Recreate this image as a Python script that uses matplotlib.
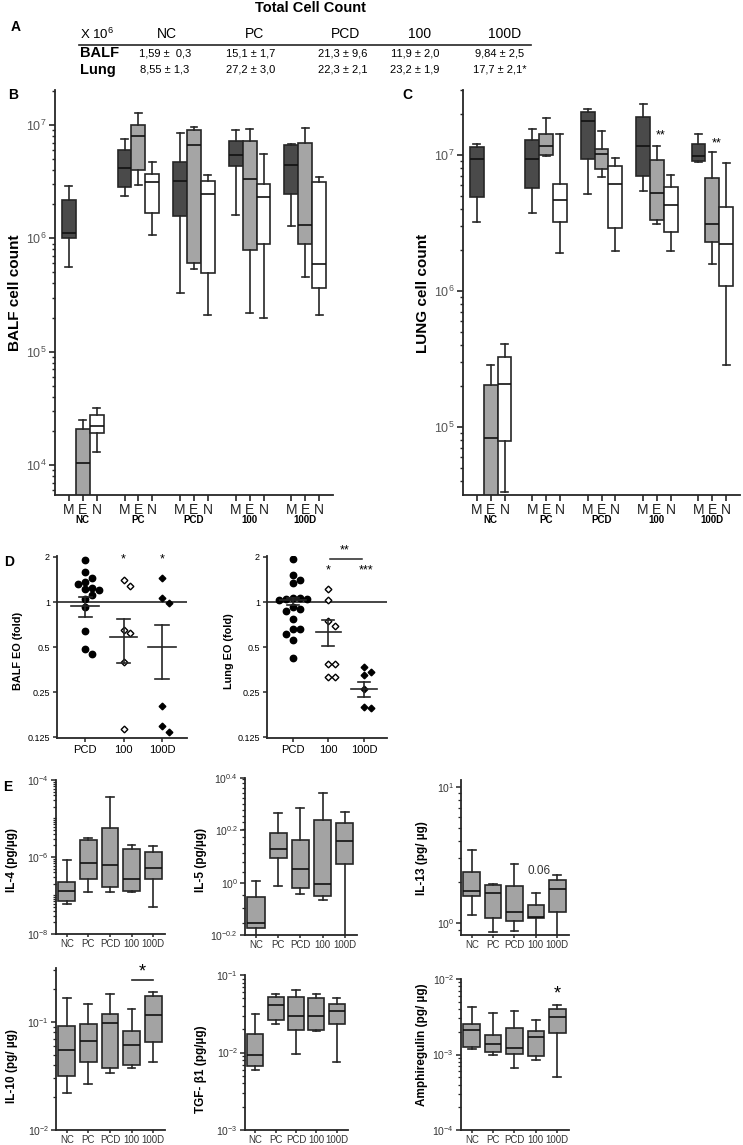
import numpy as np
import matplotlib.pyplot as plt
from matplotlib.lines import Line2D
from matplotlib.ticker import LogLocator, FixedLocator, NullLocator, NullFormatter

plt.rcParams["font.family"] = ["Liberation Sans", "DejaVu Sans"]
plt.rcParams["mathtext.fontset"] = "custom"
plt.rcParams["mathtext.rm"] = "Liberation Sans"
plt.rcParams["mathtext.it"] = "Liberation Sans:italic"
plt.rcParams["mathtext.bf"] = "Liberation Sans:bold"

W, H = 743, 1145
DARK = "#262626"

# ---------------- data ----------------
groups = ["NC", "PC", "PCD", "100", "100D"]
cells = ["M", "E", "N"]

table_cols = ["NC", "PC", "PCD", "100", "100D"]
table_balf = ["1,59 \u00b1  0,3", "15,1 \u00b1 1,7", "21,3 \u00b1 9,6", "11,9 \u00b1 2,0", "9,84 \u00b1 2,5"]
table_lung = ["8,55 \u00b1 1,3", "27,2 \u00b1 3,0", "22,3 \u00b1 2,1", "23,2 \u00b1 1,9", "17,7 \u00b1 2,1*"]

# (whisker low, q1, median, q3, whisker high) per group, per cell type M/E/N
balf_box = [
    [(5.6e5, 1.0e6, 1.12e6, 2.18e6, 2.9e6), (2.0e3, 3.0e3, 1.04e4, 2.07e4, 2.5e4), (1.31e4, 1.9e4, 2.2e4, 2.75e4, 3.17e4)],
    [(2.37e6, 2.82e6, 4.15e6, 6.0e6, 7.6e6), (2.94e6, 4.0e6, 8.05e6, 1.0e7, 1.27e7), (1.07e6, 1.66e6, 3.12e6, 3.7e6, 4.74e6)],
    [(3.27e5, 1.57e6, 3.18e6, 4.72e6, 8.56e6), (5.37e5, 6.0e5, 6.67e6, 9.0e6, 9.67e6), (2.1e5, 4.9e5, 2.44e6, 3.23e6, 3.6e6)],
    [(1.61e6, 4.37e6, 5.47e6, 7.2e6, 9.0e6), (2.18e5, 7.9e5, 3.31e6, 7.27e6, 9.16e6), (1.97e5, 8.85e5, 2.33e6, 3.02e6, 5.55e6)],
    [(1.28e6, 2.46e6, 4.4e6, 6.67e6, 6.8e6), (4.6e5, 8.9e5, 1.3e6, 6.88e6, 9.47e6), (2.1e5, 3.62e5, 5.94e5, 3.12e6, 3.5e6)],
]
lung_box = [
    [(3.19e6, 4.93e6, 9.34e6, 1.15e7, 1.2e7), (1.0e4, 2.0e4, 8.3e4, 2.04e5, 2.83e5), (3.33e4, 7.8e4, 2.05e5, 3.27e5, 4.05e5)],
    [(3.76e6, 5.68e6, 9.34e6, 1.3e7, 1.56e7), (9.8e6, 9.94e6, 1.165e7, 1.43e7, 1.88e7), (1.9e6, 3.23e6, 4.66e6, 6.08e6, 1.44e7)],
    [(5.2e6, 9.34e6, 1.79e7, 2.06e7, 2.17e7), (6.84e6, 7.84e6, 1.02e7, 1.1e7, 1.5e7), (1.96e6, 2.88e6, 6.15e6, 8.34e6, 9.45e6)],
    [(5.43e6, 7.05e6, 1.165e7, 1.92e7, 2.38e7), (3.1e6, 3.32e6, 5.27e6, 9.2e6, 1.165e7), (1.97e6, 2.7e6, 4.26e6, 5.85e6, 7.13e6)],
    [(8.93e6, 9.08e6, 9.89e6, 1.2e7, 1.43e7), (1.57e6, 2.3e6, 3.13e6, 6.81e6, 1.05e7), (2.83e5, 1.08e6, 2.23e6, 4.14e6, 8.77e6)],
]

d_groups = ["PCD", "100", "100D"]
balf_eo = [
    [1.90, 1.578, 1.446, 1.359, 1.318, 1.251, 1.226, 1.195, 1.111, 1.045, 0.923, 0.643, 0.487, 0.449],
    [1.395, 1.284, 0.650, 0.618, 0.398, 0.142],
    [1.446, 1.061, 0.982, 0.202, 0.150, 0.137],
]
balf_mean = [0.942, 0.581, 0.503]
balf_err_lo = [0.79, 0.39, 0.306]
balf_err_hi = [1.08, 0.767, 0.708]
lung_eo = [
    [1.93, 1.51, 1.40, 1.335, 1.06, 1.05, 1.05, 1.04, 1.06, 0.933, 0.905, 0.87, 0.768, 0.66, 0.66, 0.61, 0.56, 0.426],
    [1.217, 1.029, 0.749, 0.694, 0.389, 0.389, 0.317, 0.317],
    [0.37, 0.342, 0.325, 0.262, 0.2, 0.196],
]
lung_mean = [1.04, 0.636, 0.262]
lung_err_lo = [0.96, 0.51, 0.233]
lung_err_hi = [1.07, 0.762, 0.293]

il4 = [(5.9e-8, 7.0e-8, 1.33e-7, 2.3e-7, 8.2e-7), (1.21e-7, 2.68e-7, 7.0e-7, 2.82e-6, 3.05e-6),
       (1.21e-7, 1.63e-7, 6.08e-7, 5.66e-6, 3.6e-5), (1.23e-7, 1.34e-7, 2.74e-7, 1.64e-6, 2.09e-6),
       (4.93e-8, 2.68e-7, 5.29e-7, 1.38e-6, 1.89e-6)]
il5 = [(0.5, 0.673, 0.700, 0.879, 1.018), (0.97, 1.239, 1.342, 1.545, 1.84),
       (0.906, 0.952, 1.127, 1.456, 1.934), (0.859, 0.889, 0.987, 1.738, 2.196),
       (0.5, 1.175, 1.446, 1.695, 1.862)]
il13 = [(1.15, 1.585, 1.725, 2.36, 3.44), (0.86, 1.10, 1.658, 1.90, 1.93),
        (0.884, 1.04, 1.20, 1.875, 2.72), (0.7, 1.10, 1.12, 1.35, 1.68),
        (0.7, 1.20, 1.77, 2.07, 2.26)]
il10 = [(0.0221, 0.0316, 0.0551, 0.0917, 0.168), (0.0264, 0.0422, 0.0664, 0.0957, 0.1475),
        (0.0335, 0.0376, 0.0986, 0.119, 0.183), (0.0379, 0.0404, 0.0613, 0.0818, 0.133),
        (0.0428, 0.065, 0.117, 0.175, 0.191)]
tgf = [(0.00591, 0.00673, 0.00931, 0.0172, 0.0312), (0.0232, 0.0264, 0.0411, 0.0513, 0.0577),
       (0.0097, 0.0196, 0.0292, 0.0513, 0.0643), (0.0187, 0.0195, 0.0292, 0.0498, 0.0577),
       (0.00757, 0.0232, 0.0344, 0.042, 0.0501)]
amph = [(0.001176, 0.00126, 0.0021, 0.00252, 0.00427), (0.001, 0.001084, 0.00137, 0.001835, 0.00359),
        (0.000667, 0.00103, 0.001225, 0.00221, 0.00381), (0.000833, 0.00096, 0.00171, 0.002075, 0.00284),
        (0.000501, 0.0019, 0.00315, 0.00397, 0.00458)]


# ---------------- helpers ----------------
fig = plt.figure(figsize=(W / 100, H / 100), dpi=100)


def axes_px(l, t, r, b):
    ax = fig.add_axes([l / W, 1 - b / H, (r - l) / W, (b - t) / H])
    ax.spines["top"].set_visible(False)
    ax.spines["right"].set_visible(False)
    for s in ("left", "bottom"):
        ax.spines[s].set_linewidth(1.3)
        ax.spines[s].set_color(DARK)
    ax.patch.set_alpha(0)
    return ax


def ftext(x, y, s, **kw):
    kw.setdefault("ha", "center")
    kw.setdefault("va", "center")
    fig.text(x / W, 1 - y / H, s, **kw)


def to_stats(rows):
    return [dict(whislo=r[0], q1=r[1], med=r[2], q3=r[3], whishi=r[4], fliers=[]) for r in rows]


def draw_boxes(ax, rows, positions, width, capw, face, lw=1.2):
    ax.bxp(to_stats(rows), positions=positions, widths=width, capwidths=capw,
           patch_artist=True, showfliers=False, manage_ticks=False,
           boxprops=dict(facecolor=face, edgecolor=DARK, linewidth=lw),
           medianprops=dict(color="#111111", linewidth=lw),
           whiskerprops=dict(color=DARK, linewidth=lw),
           capprops=dict(color=DARK, linewidth=lw))


def log_label(e):
    return r"$10^{%s}$" % e


# ---------------- A: table ----------------
ftext(310, 8, "Total Cell Count", fontsize=10.5, fontweight="bold")
ftext(16, 27, "A", fontsize=10, fontweight="bold")
ftext(80, 34, r"X 10$^{6}$", fontsize=9.5, ha="left")
col_x = [167, 255, 345, 420, 505]
val_x = [165, 251, 343, 415, 500]
for cx, c in zip(col_x, table_cols):
    ftext(cx, 34, c, fontsize=10)
fig.add_artist(Line2D([79 / W, 531 / W], [1 - 45 / H] * 2, color=DARK, lw=1.2))
ftext(80, 53, "BALF", fontsize=10.5, fontweight="bold", ha="left")
ftext(80, 70, "Lung", fontsize=10.5, fontweight="bold", ha="left")
for vx, b, l in zip(val_x, table_balf, table_lung):
    ftext(vx, 53, b, fontsize=8)
    ftext(vx, 70, l, fontsize=8)

# ---------------- B / C ----------------
cell_faces = ["#4a4a4a", "#a5a5a5", "white"]


def count_panel(l, r, data, ylim, decades, ylabel, lab_x):
    ax = axes_px(l, 90, r, 495)
    ax.set_yscale("log")
    for m in range(3):
        pos = [4 * g + m for g in range(5)]
        draw_boxes(ax, [data[g][m] for g in range(5)], pos, 1.0, 0.5, cell_faces[m], lw=1.2)
    ax.set_ylim(*ylim)
    ax.set_xlim(-1, 19)
    ax.set_yticks([10.0 ** d for d in decades], [log_label(d) for d in decades])
    ax.yaxis.set_minor_locator(LogLocator(base=10, subs=np.arange(2, 10), numticks=20))
    ax.yaxis.set_minor_formatter(NullFormatter())
    ax.tick_params(axis="y", which="major", labelsize=9, labelcolor="#555555", length=4, width=1.2, color=DARK, pad=2)
    ax.tick_params(axis="y", which="minor", length=2.5, width=1.0, color=DARK)
    ax.set_xticks([4 * g + m for g in range(5) for m in range(3)], cells * 5)
    ax.tick_params(axis="x", labelsize=10, length=4, width=1.2, color=DARK, pad=1.5, labelcolor="#222222")
    for g, name in enumerate(groups):
        ax.text(4 * g + 1, -0.062, name, transform=ax.get_xaxis_transform(),
                ha="center", va="center", fontsize=7, fontweight="bold")
    ftext(lab_x, 293, ylabel, rotation=90, fontsize=11, fontweight="bold")
    return ax


count_panel(55, 333, balf_box, (10 ** 3.735, 10 ** 7.309), [4, 5, 6, 7], "BALF cell count", 15)
axc = count_panel(463, 740, lung_box, (10 ** 4.497, 10 ** 7.479), [5, 6, 7], "LUNG cell count", 423)
axc.text(13.3, 1.4e7, "**", ha="center", va="center", fontsize=9)
axc.text(17.3, 1.22e7, "**", ha="center", va="center", fontsize=9)
ftext(13, 95, "B", fontsize=10, fontweight="bold")
ftext(407, 95, "C", fontsize=10, fontweight="bold")

# ---------------- D ----------------
marker_styles = [("o", "black", 4.6), ("D", "white", 3.4), ("D", "black", 3.4)]


def swarm_offsets(ax, x0, vals, d):
    pts = ax.transData.transform(np.column_stack([np.full(len(vals), x0), vals]))
    ppu = ax.transData.transform((1, 1))[0] - ax.transData.transform((0, 1))[0]
    ys = pts[:, 1]
    placed = []
    offs = np.zeros(len(vals))
    for i in np.argsort(-ys):
        k = 0
        while True:
            cand = 0 if k == 0 else ((k + 1) // 2) * d * (1 if k % 2 else -1)
            if all((cand - px) ** 2 + (ys[i] - py) ** 2 >= (d * 0.95) ** 2 for px, py in placed):
                break
            k += 1
        placed.append((cand, ys[i]))
        offs[i] = cand / ppu
    return offs


def eo_panel(l, r, vals, means, lo, hi, ylabel, lab_x):
    ax = axes_px(l, 556, r, 738)
    ax.set_yscale("log", base=2)
    ax.set_ylim(0.124, 2.03)
    ax.set_xlim(-0.73, 2.65)
    ax.axhline(1, color=DARK, lw=1.2, zorder=1)
    for i, v in enumerate(vals):
        mk, fc, ms = marker_styles[i]
        offs = swarm_offsets(ax, i, v, 6.8)
        ax.plot(i + offs, v, linestyle="none", marker=mk, markersize=ms, markerfacecolor=fc,
                markeredgecolor="black", markeredgewidth=1.0, zorder=3)
        ax.plot([i - 0.36, i + 0.36], [means[i]] * 2, color=DARK, lw=1.2, zorder=4)
        ax.plot([i, i], [lo[i], hi[i]], color=DARK, lw=1.2, zorder=4)
        for e in (lo[i], hi[i]):
            ax.plot([i - 0.17, i + 0.17], [e, e], color=DARK, lw=1.2, zorder=4)
    ax.set_yticks([0.125, 0.25, 0.5, 1, 2], ["0.125", "0.25", "0.5", "1", "2"])
    ax.yaxis.set_minor_locator(NullLocator())
    ax.tick_params(axis="y", labelsize=6.5, length=3, width=1.1, color=DARK, pad=2)
    ax.set_xticks(range(3), d_groups)
    ax.tick_params(axis="x", labelsize=8, length=3, width=1.1, color=DARK, pad=2)
    ftext(lab_x, 651, ylabel, rotation=90, fontsize=7.8, fontweight="bold")
    return ax


axd1 = eo_panel(57, 187, balf_eo, balf_mean, balf_err_lo, balf_err_hi, "BALF EO (fold)", 18)
axd1.text(1, 1.94, "*", ha="center", va="center", fontsize=9)
axd1.text(2, 1.94, "*", ha="center", va="center", fontsize=9)
axd2 = eo_panel(267, 387, lung_eo, lung_mean, lung_err_lo, lung_err_hi, "Lung EO (fold)", 229)
axd2.plot([1.05, 1.95], [1.93, 1.93], color=DARK, lw=1.1, clip_on=False)
axd2.text(1.45, 2.2, "**", ha="center", va="center", fontsize=9)
axd2.text(1, 1.62, "*", ha="center", va="center", fontsize=9)
axd2.text(2.05, 1.62, "***", ha="center", va="center", fontsize=9)
ftext(9, 562, "D", fontsize=10, fontweight="bold")

# ---------------- E ----------------
E_FACE = "#a3a3a3"


def cyto_panel(l, t, r, b, rows, ylim, major, ylabel, lab_x, lab_y):
    ax = axes_px(l, t, r, b)
    ax.set_yscale("log")
    draw_boxes(ax, rows, range(5), 0.78, 0.36, E_FACE, lw=1.2)
    ax.set_ylim(*ylim)
    ax.set_xlim(-0.5, 4.55)
    if major is not None:
        ax.set_yticks([10.0 ** e for e in major], [log_label(e) for e in major])
        ax.yaxis.set_minor_locator(LogLocator(base=10, subs=np.arange(1, 10), numticks=30))
        ax.yaxis.set_minor_formatter(NullFormatter())
    ax.tick_params(axis="y", which="major", labelsize=7.5, labelcolor="#333333", length=3.5, width=1.1, color=DARK, pad=1.5)
    ax.tick_params(axis="y", which="minor", length=2, width=0.9, color=DARK)
    ax.set_xticks(range(5), groups)
    ax.tick_params(axis="x", labelsize=7, labelcolor="#333333", length=2.5, width=1.1, color=DARK, pad=0.8)
    ftext(lab_x, lab_y, ylabel, rotation=90, fontsize=8.5, fontweight="bold")
    return ax


cyto_panel(56, 780, 165, 934, il4, (1e-8, 1e-4), [-4, -6, -8], "IL-4 (pg/\u00b5g)", 12, 860)

ax5 = cyto_panel(245, 778, 357, 935, il5, (10 ** -0.2, 10 ** 0.4), None, "IL-5 (pg/\u00b5g)", 201, 860)
ax5.set_yticks([10 ** -0.2, 1.0, 10 ** 0.2, 10 ** 0.4], [log_label("-0.2"), log_label(0), log_label(0.2), log_label(0.4)])
ax5.yaxis.set_minor_locator(FixedLocator(np.arange(0.7, 2.55, 0.1)))
ax5.yaxis.set_minor_formatter(NullFormatter())
ax5.tick_params(axis="y", which="minor", length=2, width=0.9, color=DARK)

ax13 = cyto_panel(461, 780, 569, 935, il13, (10 ** -0.086, 10 ** 1.05), [1, 0], "IL-13 (pg/ \u00b5g)", 422, 858)
ax13.text(3.15, 2.42, "0.06", ha="center", va="center", fontsize=8.5, color="#333333")

ax10 = cyto_panel(56, 968, 165, 1130, il10, (1e-2, 10 ** -0.5), [-1, -2], "IL-10 (pg/ \u00b5g)", 12, 1066)
ax10.plot([3, 4], [0.244, 0.244], color=DARK, lw=1.2, clip_on=False)
ax10.text(3.5, 0.292, "*", ha="center", va="center", fontsize=13)

cyto_panel(245, 975, 348, 1130, tgf, (1e-3, 1e-1), [-1, -2, -3], "TGF- \u03b21 (pg/\u00b5g)", 201, 1069)

axa = cyto_panel(461, 979, 569, 1130, amph, (1e-4, 1e-2), [-2, -3, -4], "Amphiregulin (pg/ \u00b5g)", 422, 1045)
axa.text(4, 0.0064, "*", ha="center", va="center", fontsize=13)

ftext(8, 787, "E", fontsize=10, fontweight="bold")

fig.savefig("out.png", dpi=100)
